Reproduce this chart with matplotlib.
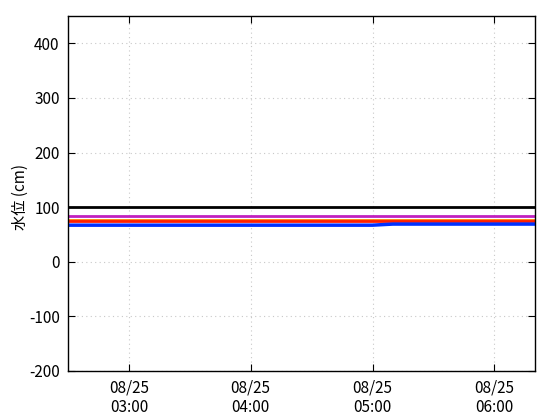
import matplotlib
matplotlib.use("Agg")
import matplotlib.pyplot as plt
import matplotlib.dates as mdates
import numpy as np
import pandas as pd

plt.rcParams['font.family'] = ['Noto Sans CJK JP', 'DejaVu Sans']
plt.rcParams['axes.unicode_minus'] = False

times = pd.date_range("2023-08-25 02:30", "2023-08-25 06:20", freq="10min")
n = len(times)
black_vals = [100] * n
magenta_vals = [84] * n
orange_vals = [76] * n
red_vals = [74] * n
blue_vals = [67, 67, 67, 67, 67, 67, 67, 67, 67, 67, 67, 67, 67, 67, 67, 67,
             69, 69, 69, 69, 69, 69, 69, 69]
blue_vals = blue_vals[:n]

yticks = [-200, -100, 0, 100, 200, 300, 400]
xticks = pd.to_datetime(["2023-08-25 03:00", "2023-08-25 04:00",
                         "2023-08-25 05:00", "2023-08-25 06:00"])

fig = plt.figure(figsize=(5.6, 4.2), dpi=100)
ax = fig.add_axes([0.1214, 0.1167, 0.834, 0.8452])

ax.plot(times, black_vals, color="black", lw=2)
ax.plot(times, magenta_vals, color="#c020c0", lw=2)
ax.plot(times, orange_vals, color="#ff8000", lw=2)
ax.plot(times, red_vals, color="#ff2000", lw=2)
ax.plot(times, blue_vals, color="#0030ff", lw=2.5)

ax.set_xlim(times[0], times[-1])
ax.set_ylim(-200, 450)
ax.set_yticks(yticks)
ax.set_xticks(xticks)
ax.xaxis.set_major_formatter(mdates.DateFormatter("%m/%d\n%H:%M"))
ax.grid(True, color="#c8c8c8", linestyle=(0, (1, 3)), linewidth=0.8)
ax.tick_params(direction="in", length=5, labelsize=11, colors="black",
               top=True, right=True, pad=6)
for s in ax.spines.values():
    s.set_linewidth(1.0)
ax.set_ylabel("水位 (cm)", fontsize=11)
ax.yaxis.set_label_coords(-0.084, 0.49)

fig.savefig("out.png", dpi=100)
